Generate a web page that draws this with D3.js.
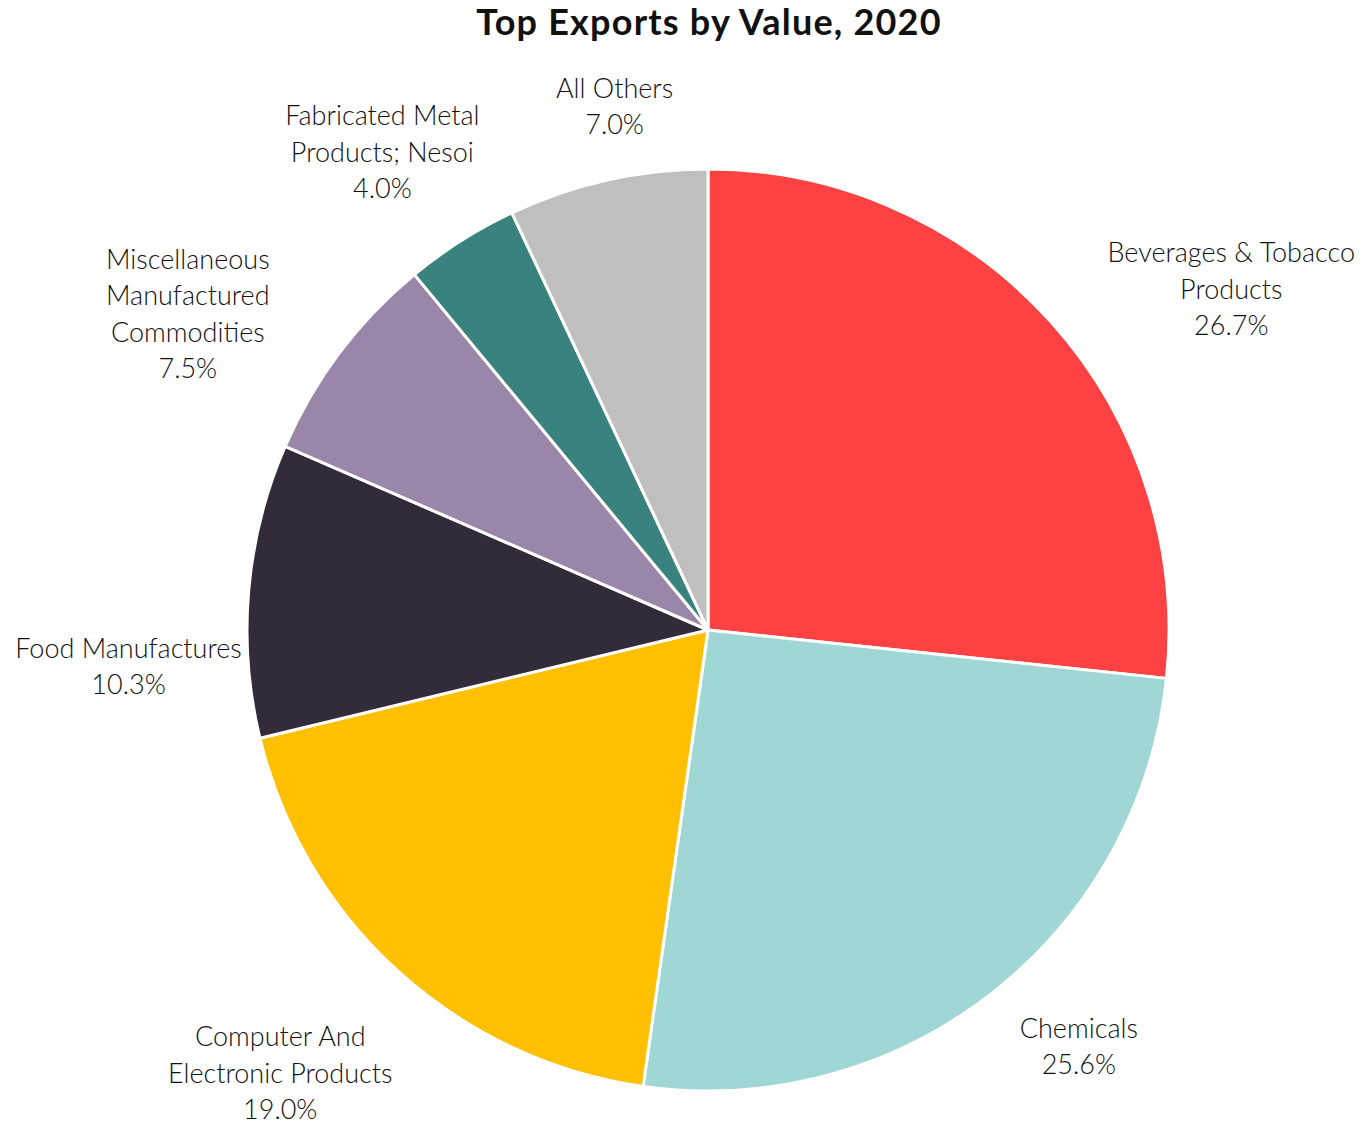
<!DOCTYPE html>
<html>
<head>
<meta charset="utf-8">
<script src="https://cdn.jsdelivr.net/npm/d3@7"></script>
<style>
  body { margin: 0; background: #fff; }
  .pie-font { font-family: Lato, "Open Sans", sans-serif; fill: #111; }
</style>
</head>
<body>
<div id="pie_div"></div>
<script>
const categories = [
  ["Beverages & Tobacco", "Products"],
  ["Chemicals"],
  ["Computer And", "Electronic Products"],
  ["Food Manufactures"],
  ["Miscellaneous", "Manufactured", "Commodities"],
  ["Fabricated Metal", "Products; Nesoi"],
  ["All Others"]
];
const values = [26.7, 25.6, 19.0, 10.3, 7.5, 4.0, 7.0];
const colors = ["#fe4143", "#a0d6d3", "#fec000", "#332a3a", "#9986a9", "#3a827d", "#bfbfbf"];

// hand tweaks so labels sit where the original put them
const labelNudge = [[42, 13], [16, 13], [8, 51], [13, 80], [-54, 13], [29, -31], [70, -25]];

const width = 1372,
  height = 1126,
  radius = 461,
  cx = 708,
  cy = 630,
  lineH = 36.5;

const svg = d3
  .select("#pie_div")
  .append("svg")
  .attr("width", width)
  .attr("height", height);

const title = svg
  .append("text")
  .attr("class", "pie-font")
  .attr("x", 709)
  .attr("y", 35)
  .attr("text-anchor", "middle")
  .style("font-size", "36px")
  .style("letter-spacing", "1.2px")
  .style("font-weight", "bold")
  .text("Top Exports by Value, 2020");

const pie = d3.pie().sort(null).value(d => d);
const arc = d3.arc().innerRadius(0).outerRadius(radius);

const pieChart = svg.append("g").attr("transform", `translate(${cx}, ${cy})`);

const arcs = pie(values);

pieChart
  .selectAll(".arc")
  .data(arcs)
  .enter()
  .append("path")
  .attr("class", "arc")
  .attr("d", arc)
  .attr("fill", (d, i) => colors[i])
  .attr("stroke", "white")
  .attr("stroke-width", 3)
  .attr("stroke-linejoin", "round");

// labels outside the pie
const labels = pieChart
  .selectAll(".slice-labels")
  .data(arcs)
  .enter()
  .append("text")
  .attr("class", "slice-labels pie-font")
  .attr("text-anchor", "middle")
  .style("font-size", "27px")
  .style("font-weight", 300);

labels.each(function (d, i) {
  const lines = categories[i].concat([d3.format(".1f")(values[i]) + "%"]);
  const t = d3.select(this);
  lines.forEach((l, j) => {
    t.append("tspan").attr("x", 0).text(l);
  });
  let w = 0;
  t.selectAll("tspan").each(function () {
    w = Math.max(w, this.getComputedTextLength());
  });
  const n = lines.length;
  const h = (n - 1) * lineH + 24;
  const a = (d.startAngle + d.endAngle) / 2;
  const r = radius + 20;
  const px = Math.sin(a) * r,
    py = -Math.cos(a) * r;
  const x = px + Math.sign(Math.sin(a)) * w / 2 + labelNudge[i][0];
  const y = py - Math.cos(a) * h / 2 + labelNudge[i][1];
  t.selectAll("tspan")
    .attr("x", x)
    .attr("y", (_, j) => y + (j - (n - 1) / 2) * lineH + 10);
});
</script>
</body>
</html>
